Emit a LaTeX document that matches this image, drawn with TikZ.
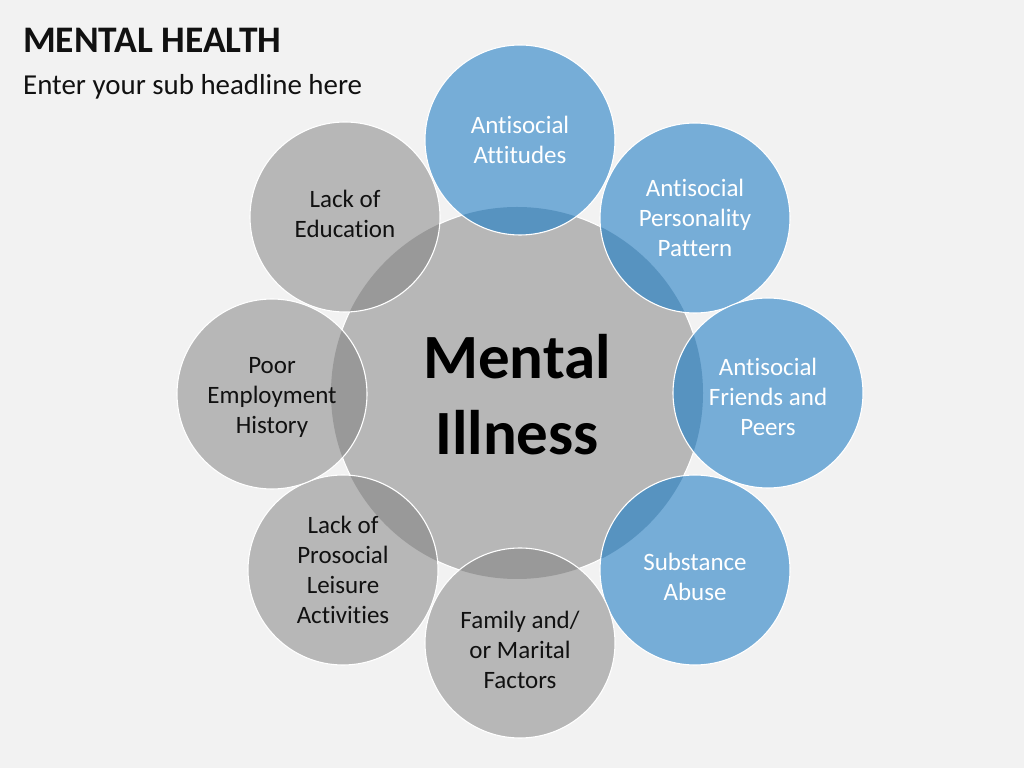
\documentclass[tikz,border=0pt]{standalone}
\usepackage{fontspec}
\setmainfont{Carlito}[Ligatures=NoCommon]
\definecolor{bg}{HTML}{F2F2F2}
\definecolor{midgray}{HTML}{B7B7B7}
\definecolor{lensgray}{HTML}{999999}
\definecolor{blueA}{HTML}{76ADD7}
\definecolor{lensblue}{HTML}{5793C0}
\definecolor{ink}{HTML}{111111}
\tikzset{
  ring/.style={circle, draw=white, line width=1.1pt, minimum size=190pt, inner sep=0pt, outer sep=0pt},
  ringtext/.style={align=center, inner sep=0pt, font=\fontsize{25}{30}\selectfont},
  darktext/.style={text=ink},
  lighttext/.style={text=white},
}
% name, x, y, fill, lens, text style, text y-shift, text
\newcommand{\outerring}[8]{%
  \fill[#4] (#2,#3) circle (95);
  \begin{scope}
    \clip (hub.center) circle (186);
    \fill[#5] (#2,#3) circle (95);
  \end{scope}
  \node[ring] (#1) at (#2,#3) {};
  \node[ringtext, #6] (#1-t) at ([yshift=#7]#1.center) {#8};
}
\begin{document}
\begin{tikzpicture}[x=1pt,y=1pt]
\useasboundingbox (0,0) rectangle (1024,768);
\fill[bg] (0,0) rectangle (1024,768);
\node[anchor=base west, inner sep=0pt, text=ink, font=\fontsize{37.5}{40}\selectfont\bfseries] (title) at (23,715) {MENTAL HEALTH};
\node[anchor=base west, inner sep=0pt, text=ink, font=\fontsize{28.9}{30}\selectfont] (subtitle) at (23,673) {Enter your sub headline here};
\node[circle, fill=midgray, draw=white, line width=1.1pt, minimum size=372pt, inner sep=0pt] (hub) at (517,375) {};
\outerring{att}{520}{628}{blueA}{lensblue}{lighttext}{0pt}{Antisocial\\Attitudes}
\outerring{pers}{695}{550}{blueA}{lensblue}{lighttext}{0pt}{Antisocial\\Personality\\Pattern}
\outerring{friends}{768}{375}{blueA}{lensblue}{lighttext}{-4pt}{Antisocial\\Friends and\\Peers}
\outerring{subst}{695}{198}{blueA}{lensblue}{lighttext}{-7pt}{Substance\\Abuse}
\outerring{family}{520}{125}{midgray}{lensgray}{darktext}{-7pt}{Family and/\\or Marital\\Factors}
\outerring{leisure}{343}{198}{midgray}{lensgray}{darktext}{0pt}{Lack of\\Prosocial\\Leisure\\Activities}
\outerring{employ}{272}{374}{midgray}{lensgray}{darktext}{-3pt}{Poor\\Employment\\History}
\outerring{edu}{345}{551}{midgray}{lensgray}{darktext}{3pt}{Lack of\\Education}
\node[align=center, text=black, font=\fontsize{63}{76}\selectfont\bfseries] (label) at (517,373) {Mental\\Illness};
\end{tikzpicture}
\end{document}
